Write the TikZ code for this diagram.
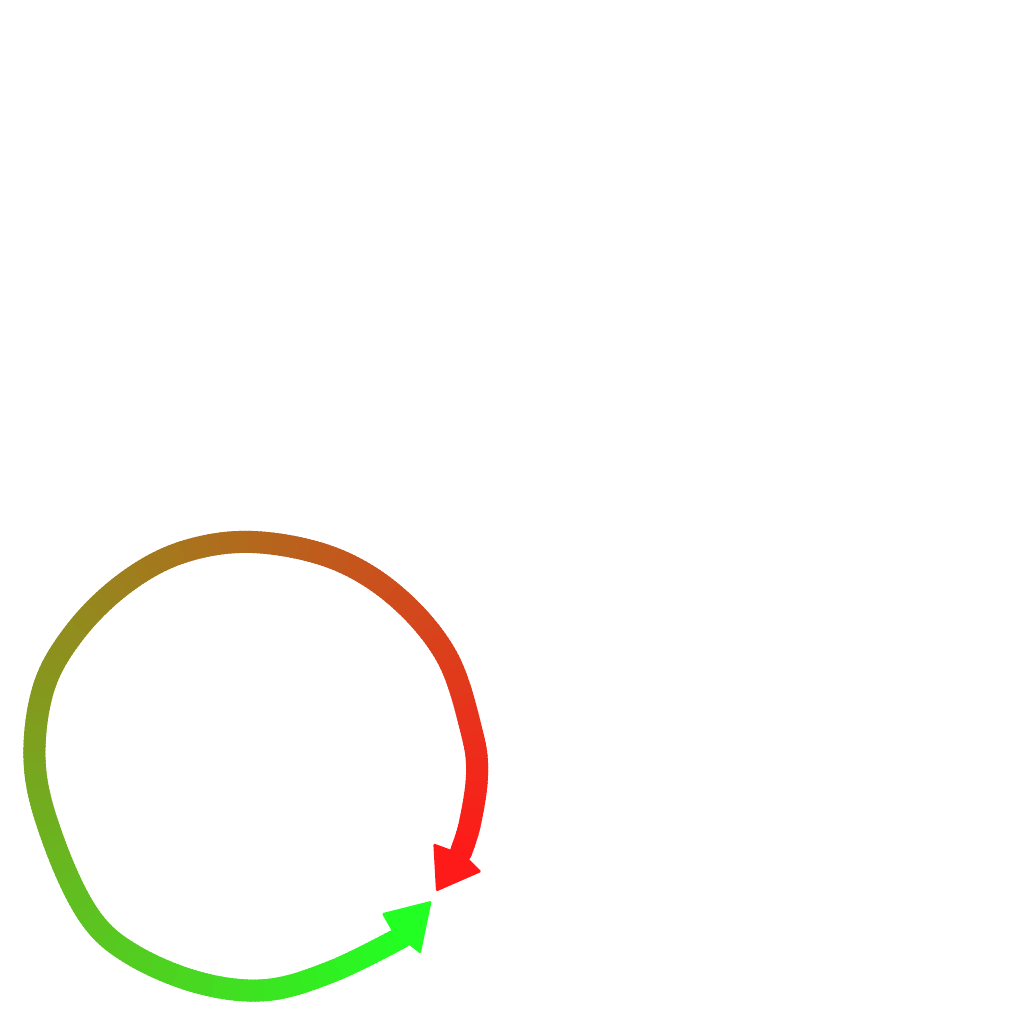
\documentclass[tikz,border=0pt]{standalone}
\definecolor{cstart}{RGB}{34,255,34}
\definecolor{cend}{RGB}{255,26,26}
\begin{document}
\begin{tikzpicture}[x=1pt,y=-1pt,
  arrowhead/.style={rounded corners=1.5pt},
  shaft/.style={line width=22pt, line cap=round, line join=round}]
\useasboundingbox (0,0) rectangle (1024,1024);
\def\shaftpath{plot[smooth, tension=0.6] coordinates {
  (402,937) (333,971) (267,990) (200,983) (133,955) (90,917) (55,845)
  (35,768) (43,690) (75,632) (125,583) (183,552) (253,542) (333,558)
  (397,597) (447,657) (472,733) (477,775) (470,823) (461,852)}}
\foreach \a in {36,...,395}{
  \pgfmathtruncatemacro\pc{min(100,max(0,round((\a-49)/3.333)))}
  \pgfmathsetmacro\b{\a+1.6}
  \begin{scope}
    \clip[shift={(256,766)}] (0,0) -- (\a:340) -- (\b:340) -- cycle;
    \draw[shaft, cend!\pc!cstart] \shaftpath;
  \end{scope}
}
% green arrowhead
\fill[cstart, arrowhead] (431.7,900.7) -- (381.7,913.3) -- (393,933) -- (406.7,943) -- (420.7,954) -- cycle;
% red arrowhead
\fill[cend, arrowhead] (436,891.7) -- (433.3,843.3) -- (451.7,850) -- (468.3,858.3) -- (481.7,871.7) -- cycle;
\end{tikzpicture}
\end{document}
